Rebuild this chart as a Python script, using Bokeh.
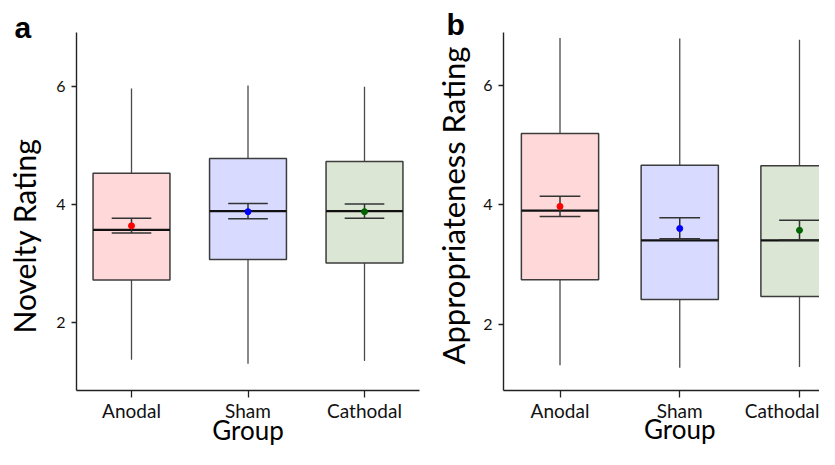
import math
from bokeh.plotting import figure
from bokeh.models import Range1d, FixedTicker, Label, ColumnDataSource
from bokeh.layouts import row
from bokeh.embed import file_html
from bokeh.resources import INLINE

# ---------------- data ----------------
categories = ["Anodal", "Sham", "Cathodal"]
positions = [1, 2, 3]
y_ticks = [2, 4, 6]
fill_colors = ["#FFD9D9", "#D9DAFF", "#DCE6D5"]
mean_colors = ["#FF0000", "#0000FF", "#006400"]

# Panel a: Novelty Rating
nov_whisk_low = [1.37, 1.30, 1.35]
nov_q1 = [2.72, 3.07, 3.01]
nov_median = [3.57, 3.89, 3.89]
nov_q3 = [4.53, 4.78, 4.73]
nov_whisk_high = [5.97, 6.02, 6.00]
nov_mean = [3.64, 3.88, 3.88]
nov_err_low = [3.52, 3.76, 3.77]
nov_err_high = [3.77, 4.02, 4.01]

# Panel b: Appropriateness Rating
app_whisk_low = [1.31, 1.27, 1.28]
app_q1 = [2.74, 2.41, 2.46]
app_median = [3.90, 3.40, 3.40]
app_q3 = [5.19, 4.66, 4.65]
app_whisk_high = [6.79, 6.78, 6.76]
app_mean = [3.97, 3.60, 3.57]
app_err_low = [3.80, 3.43, 3.41]
app_err_high = [4.14, 3.78, 3.74]

X_FONT = "Lato"
Y_FONT = "Lato"
H = 449


def make_panel(width, x_range, y_range, x_bounds, y_bounds, box_width,
               wl, q1, med, q3, wh, mean, el, eh,
               letter, letter_pos, ylabel, ylabel_size, ylabel_pos, xlabel_pos):
    p = figure(width=width, height=H, output_backend="svg", toolbar_location=None,
               x_range=Range1d(*x_range), y_range=Range1d(*y_range),
               min_border=0, min_border_left=0, min_border_right=0,
               min_border_top=0, min_border_bottom=0)
    p.title.visible = False
    p.outline_line_color = None
    p.xgrid.visible = False
    p.ygrid.visible = False
    p.background_fill_color = "white"
    p.border_fill_color = "white"

    half = box_width / 2.0
    cap = 0.17
    src = ColumnDataSource(dict(
        x=positions, left=[x - half for x in positions], right=[x + half for x in positions],
        wl=wl, q1=q1, med=med, q3=q3, wh=wh, mean=mean, el=el, eh=eh,
        cl=[x - cap for x in positions], cr=[x + cap for x in positions],
        fill=fill_colors, mc=mean_colors))

    # whiskers
    p.segment(x0="x", y0="q3", x1="x", y1="wh", source=src, line_color="#4a4a4a", line_width=1.3)
    p.segment(x0="x", y0="wl", x1="x", y1="q1", source=src, line_color="#4a4a4a", line_width=1.3)
    # boxes
    p.quad(left="left", right="right", bottom="q1", top="q3", source=src,
           fill_color="fill", line_color="#3c3c3c", line_width=1.5)
    # medians
    p.segment(x0="left", y0="med", x1="right", y1="med", source=src, line_color="#111111", line_width=2.2)
    # error bars
    p.segment(x0="x", y0="el", x1="x", y1="eh", source=src, line_color="#333333", line_width=1.5)
    p.segment(x0="cl", y0="eh", x1="cr", y1="eh", source=src, line_color="#333333", line_width=1.5)
    p.segment(x0="cl", y0="el", x1="cr", y1="el", source=src, line_color="#333333", line_width=1.5)
    # means
    p.scatter(x="x", y="mean", source=src, size=6, fill_color="mc", line_color="mc")

    # axes (fixed inside the full-size frame, limited by bounds)
    xa = p.xaxis[0]
    ya = p.yaxis[0]
    xa.fixed_location = y_bounds[0]
    ya.fixed_location = x_bounds[0]
    xa.bounds = x_bounds
    ya.bounds = y_bounds

    xa.ticker = FixedTicker(ticks=positions)
    xa.major_label_overrides = {pos: cat for pos, cat in zip(positions, categories)}
    xa.major_tick_out = 7
    xa.major_tick_in = 0
    xa.minor_tick_line_color = None
    xa.major_label_standoff = 1
    xa.major_label_text_font = X_FONT
    xa.major_label_text_font_size = "19px"
    xa.major_label_text_color = "#111111"

    ya.ticker = FixedTicker(ticks=y_ticks)
    ya.major_tick_out = 5
    ya.major_tick_in = 0
    ya.minor_tick_line_color = None
    ya.major_label_standoff = 6
    ya.major_label_text_font = Y_FONT
    ya.major_label_text_font_size = "16px"
    ya.major_label_text_color = "#111111"

    for ax in (xa, ya):
        ax.axis_line_color = "#222222"
        ax.axis_line_width = 1.4
        ax.major_tick_line_color = "#222222"
        ax.major_tick_line_width = 1.3

    # texts
    p.add_layout(Label(x=letter_pos[0], y=letter_pos[1], text=letter,
                       text_font="Liberation Sans", text_font_style="bold",
                       text_font_size="30px", text_color="black",
                       text_align="left", text_baseline="alphabetic"))
    p.add_layout(Label(x=ylabel_pos[0], y=ylabel_pos[1], text=ylabel, angle=math.pi / 2,
                       text_font=Y_FONT, text_font_size=ylabel_size, text_color="black",
                       text_align="center", text_baseline="alphabetic"))
    p.add_layout(Label(x=xlabel_pos[0], y=xlabel_pos[1], text="Group",
                       text_font=X_FONT, text_font_size="26px", text_color="black",
                       text_align="center", text_baseline="alphabetic"))
    return p


pa = make_panel(420, (-0.1245, 3.4807), (-0.152, 7.4605), (0.528, 3.472), (0.848, 6.923), 0.66,
                nov_whisk_low, nov_q1, nov_median, nov_q3, nov_whisk_high,
                nov_mean, nov_err_low, nov_err_high,
                "a", (-0.0043, 7.0027), "Novelty Rating", "30px", (0.0773, 3.4676), (2.0, 0.1869))
pb = make_panel(399, (-0.165, 3.167), (-0.101, 7.418), (0.528, 3.167), (0.887, 6.887), 0.645,
                app_whisk_low, app_q1, app_median, app_q3, app_whisk_high,
                app_mean, app_err_low, app_err_high,
                "b", (0.0522, 7.0128), "Appropriateness Rating", "31px", (0.1023, 3.985), (2.0, 0.2345))

layout = row(pa, pb)
open("out.html", "w").write(file_html(layout, INLINE))
